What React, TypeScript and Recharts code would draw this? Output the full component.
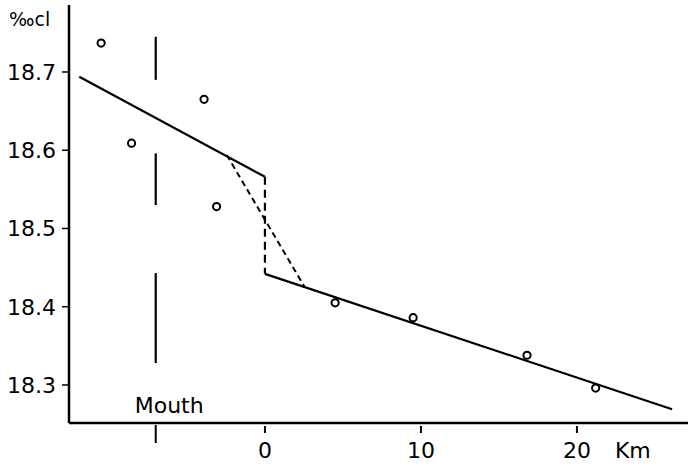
import { ComposedChart, Line, Scatter, XAxis, YAxis } from 'recharts'

// sampling stations: distance from the sill (km) and chlorinity (‰)
const STATION_KM = [-10.5, -8.55, -3.9, -3.1, 4.5, 9.5, 16.8, 21.2]
const STATION_CL = [18.737, 18.609, 18.665, 18.528, 18.405, 18.386, 18.338, 18.296]

// fitted lines
const INNER_KM = [-11.9, 0]
const INNER_CL = [18.694, 18.566]
const OUTER_KM = [0, 26.1]
const OUTER_CL = [18.442, 18.269]
const JUMP_KM = [0, 0]
const JUMP_CL = [18.566, 18.442]
const MIX_KM = [-2.45, 2.55]
const MIX_CL = [18.594, 18.425]

// the mouth, drawn as a broken vertical bar
const MOUTH_KM = -7
const MOUTH_BARS = [[18.745, 18.69], [18.596, 18.53], [18.443, 18.328]]

const X_TICKS = [MOUTH_KM, 0, 10, 20]
const Y_TICKS = [18.3, 18.4, 18.5, 18.6, 18.7]
const X_UNIT = 'Km'

const INK = '#000'
const FONT = '"DejaVu Sans", sans-serif'

const pts = (xs: number[], ys: number[]) => xs.map((x, i) => ({ x, y: ys[i] }))

const stations = pts(STATION_KM, STATION_CL)
const inner = pts(INNER_KM, INNER_CL)
const outer = pts(OUTER_KM, OUTER_CL)
const jump = pts(JUMP_KM, JUMP_CL)
const mix = pts(MIX_KM, MIX_CL)
const mouth = MOUTH_BARS.map(([a, b]) => [{ x: MOUTH_KM, y: a }, { x: MOUTH_KM, y: b }])

function KmTick(props: any) {
  const { x, y, payload } = props
  const v = payload.value
  if (v === MOUTH_KM) {
    return (
      <g>
        <line x1={x} x2={x} y1={y + 2} y2={y + 20} stroke={INK} strokeWidth={2} />
        <text x={x - 21} y={y - 10} fontSize={22} fontFamily={FONT} fill={INK}>Mouth</text>
      </g>
    )
  }
  return (
    <g>
      <line x1={x} x2={x} y1={y + 3} y2={y + 10} stroke={INK} strokeWidth={2} />
      <text x={x} y={y + 35} textAnchor="middle" fontSize={22} fontFamily={FONT} fill={INK}>{v}</text>
      {v === 20 && (
        <text x={x + 38} y={y + 35} fontSize={22} fontFamily={FONT} fill={INK}>{X_UNIT}</text>
      )}
    </g>
  )
}

function Dot(props: any) {
  const { cx, cy } = props
  return <circle cx={cx} cy={cy} r={3.6} fill="#fff" stroke={INK} strokeWidth={2} />
}

export default function App() {
  return (
    <div style={{ position: 'fixed', left: 0, top: 0, width: 688, height: 466, background: '#fff' }}>
      <div style={{ position: 'absolute', left: 9, top: 10, fontSize: 19, fontFamily: FONT, color: INK, lineHeight: 1 }}>
        ‰cl
      </div>
      <ComposedChart width={688} height={466} margin={{ top: 5, right: 0, bottom: 0, left: 0 }}>
        <XAxis dataKey="x" type="number" domain={[-12.56, 27.12]} allowDataOverflow ticks={X_TICKS}
          interval={0} height={43} tickSize={0} tickMargin={0} tickLine={false}
          axisLine={{ stroke: INK, strokeWidth: 2.5 }} tick={<KmTick />} />
        <YAxis dataKey="y" type="number" domain={[18.2514, 18.7856]} allowDataOverflow ticks={Y_TICKS}
          width={69} tickSize={7} tickMargin={6} tickFormatter={(v: number) => v.toFixed(1)}
          axisLine={{ stroke: INK, strokeWidth: 2.5 }} tickLine={{ stroke: INK, strokeWidth: 1.5 }}
          tick={{ fill: INK, fontSize: 22, fontFamily: FONT }} />
        <Line data={inner} dataKey="y" stroke={INK} strokeWidth={2.2} dot={false} isAnimationActive={false} />
        <Line data={outer} dataKey="y" stroke={INK} strokeWidth={2.2} dot={false} isAnimationActive={false} />
        <Line data={jump} dataKey="y" stroke={INK} strokeWidth={2.2} strokeDasharray="8 5" dot={false} isAnimationActive={false} />
        <Line data={mix} dataKey="y" stroke={INK} strokeWidth={2} strokeDasharray="6 4" dot={false} isAnimationActive={false} />
        {mouth.map((seg, i) => (
          <Line key={i} data={seg} dataKey="y" stroke={INK} strokeWidth={2.2} dot={false} isAnimationActive={false} />
        ))}
        <Scatter data={stations} dataKey="y" shape={<Dot />} isAnimationActive={false} />
      </ComposedChart>
    </div>
  )
}
